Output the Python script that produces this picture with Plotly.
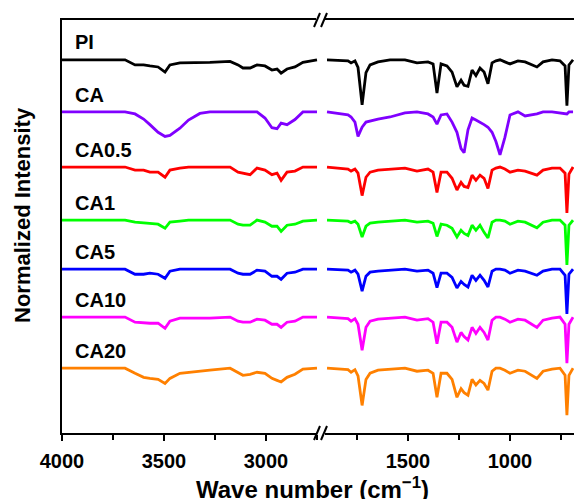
import plotly.graph_objects as go

# ---- data -------------------------------------------------------------
samples = ["PI", "CA", "CA0.5", "CA1", "CA5", "CA10", "CA20"]
colors = ["#000000", "#8000FF", "#FF0000", "#00FF00", "#0000FF", "#FF00FF", "#FF8000"]
offsets = [6.04, 5.02, 3.94, 2.90, 1.94, 1.00, 0.00]

wn_left = [4000, 3691, 3642, 3600, 3569, 3529, 3495, 3471, 3422, 3380, 3324, 3275, 3176,
           3137, 3113, 3078, 3044, 3005, 2971, 2946, 2926, 2897, 2858, 2819, 2750]
wn_right = [1897, 1794, 1779, 1760, 1745, 1725, 1706, 1686, 1647, 1588, 1515, 1456, 1402,
            1377, 1358, 1338, 1309, 1284, 1260, 1240, 1225, 1206, 1186, 1167, 1147, 1127,
            1108, 1088, 1069, 1049, 1025, 1000, 961, 926, 868, 838, 794, 755, 730, 721, 711, 691]

left_PI = [0, 0, -0.1, -0.1, -0.12, -0.14, -0.24, -0.1, -0.06, -0.06, -0.06, -0.05, -0.03,
           -0.1, -0.16, -0.16, -0.1, -0.12, -0.2, -0.18, -0.26, -0.18, -0.14, -0.05, 0]
left_CA = [0, 0, -0.04, -0.14, -0.25, -0.4, -0.48, -0.46, -0.32, -0.16, -0.03, 0, 0,
           0, 0, 0, 0, -0.12, -0.31, -0.33, -0.22, -0.25, -0.15, 0, 0]
left_CA05 = [0, 0, -0.06, -0.06, -0.1, -0.1, -0.2, -0.06, -0.02, 0, 0, 0, 0,
             -0.1, -0.12, -0.15, -0.02, -0.06, -0.15, -0.12, -0.26, -0.1, -0.08, 0, 0]
left_CA1 = [0, 0, -0.04, -0.06, -0.06, -0.08, -0.16, -0.04, -0.02, 0, 0, 0, 0,
            -0.08, -0.1, -0.1, 0, -0.04, -0.12, -0.12, -0.22, -0.1, -0.08, -0.02, 0]
left_CA5 = [0, 0, -0.1, -0.1, -0.08, -0.1, -0.18, -0.04, 0, 0, 0, 0, 0,
            -0.08, -0.1, -0.1, -0.02, -0.04, -0.14, -0.14, -0.2, -0.08, -0.06, 0, 0]
left_CA10 = [0, 0, -0.1, -0.12, -0.12, -0.12, -0.22, -0.08, -0.02, -0.02, -0.02, -0.02, 0,
             -0.08, -0.1, -0.1, -0.04, -0.06, -0.14, -0.14, -0.2, -0.1, -0.08, 0, 0]
left_CA20 = [0, 0, -0.1, -0.18, -0.2, -0.22, -0.3, -0.2, -0.1, -0.08, -0.06, -0.04, 0,
             -0.08, -0.14, -0.12, -0.08, -0.1, -0.2, -0.24, -0.27, -0.18, -0.12, -0.02, 0]

right_PI = [0, -0.02, -0.06, -0.02, -0.15, -0.88, -0.25, -0.1, -0.04, 0, 0, -0.06, -0.04,
            -0.08, -0.65, -0.08, -0.12, -0.24, -0.53, -0.4, -0.5, -0.52, -0.2, -0.31, -0.16, -0.24,
            -0.47, -0.06, -0.02, 0, -0.04, -0.08, -0.02, -0.04, -0.14, -0.04, 0, -0.02, -0.12, -0.9, -0.1, 0]
right_CA = [0, -0.06, -0.1, -0.2, -0.48, -0.3, -0.2, -0.18, -0.14, -0.1, -0.02, 0, -0.04,
            -0.1, -0.24, -0.06, -0.04, -0.2, -0.4, -0.72, -0.8, -0.35, -0.12, -0.16, -0.2, -0.25,
            -0.3, -0.4, -0.58, -0.84, -0.5, -0.06, 0, -0.08, -0.04, 0, 0, -0.02, -0.03, -0.04, 0, 0]
right_CA05 = [0, -0.04, -0.08, -0.04, -0.12, -0.56, -0.2, -0.1, -0.06, -0.04, -0.02, -0.08, -0.04,
              -0.1, -0.5, -0.1, -0.1, -0.22, -0.45, -0.3, -0.38, -0.4, -0.16, -0.26, -0.16, -0.22,
              -0.42, -0.06, -0.02, 0, -0.04, -0.1, -0.06, -0.08, -0.16, -0.06, -0.02, -0.02, -0.12, -0.9, -0.14, 0]
right_CA1 = [0, -0.02, -0.05, -0.02, -0.08, -0.33, -0.12, -0.06, -0.04, -0.02, 0, -0.04, -0.02,
             -0.06, -0.32, -0.08, -0.1, -0.16, -0.33, -0.2, -0.26, -0.3, -0.1, -0.2, -0.1, -0.24,
             -0.35, -0.04, 0, 0, -0.02, -0.08, -0.02, -0.04, -0.15, -0.04, 0, 0, -0.1, -0.88, -0.1, 0]
right_CA5 = [0, -0.02, -0.06, -0.02, -0.1, -0.43, -0.14, -0.06, -0.04, -0.02, 0, -0.04, -0.02,
             -0.08, -0.36, -0.08, -0.08, -0.16, -0.37, -0.24, -0.3, -0.35, -0.12, -0.22, -0.12, -0.22,
             -0.35, -0.04, 0, 0, -0.02, -0.08, -0.02, -0.04, -0.12, -0.04, 0, 0, -0.12, -0.88, -0.1, 0]
right_CA10 = [0, -0.03, -0.08, -0.03, -0.14, -0.65, -0.2, -0.08, -0.04, -0.02, 0, -0.06, -0.03,
              -0.1, -0.52, -0.1, -0.1, -0.2, -0.49, -0.3, -0.38, -0.45, -0.2, -0.32, -0.2, -0.3,
              -0.45, -0.06, 0, 0, -0.04, -0.1, -0.04, -0.06, -0.2, -0.06, -0.02, 0, -0.14, -0.9, -0.14, 0]
right_CA20 = [0, -0.03, -0.08, -0.03, -0.15, -0.73, -0.22, -0.1, -0.04, -0.02, 0, -0.06, -0.04,
              -0.1, -0.57, -0.1, -0.1, -0.22, -0.57, -0.4, -0.48, -0.53, -0.22, -0.33, -0.24, -0.3,
              -0.43, -0.06, 0, 0, -0.04, -0.1, -0.04, -0.06, -0.2, -0.06, -0.02, 0, -0.14, -0.92, -0.14, 0]

left_vals = [left_PI, left_CA, left_CA05, left_CA1, left_CA5, left_CA10, left_CA20]
right_vals = [right_PI, right_CA, right_CA05, right_CA1, right_CA5, right_CA10, right_CA20]

left_major = [4000, 3500, 3000]
left_minor = [3750, 3250, 2750]
right_major = [1500, 1000]
right_minor = [1750, 1250, 750]

# ---- figure -----------------------------------------------------------
W, H = 574, 499
ML, MR, MT, MB = 62, 0, 20, 66
PW, PH = W - ML - MR, H - MT - MB
split = (323 - ML) / PW

FONT = "Arial, 'Liberation Sans', sans-serif"


def px(xp):
    return (xp - ML) / PW


def py(yp):
    return (H - MB - yp) / PH


fig = go.Figure()
for name, col, off, lv, rv in zip(samples, colors, offsets, left_vals, right_vals):
    fig.add_trace(go.Scatter(x=wn_left, y=[off + v for v in lv], mode="lines",
                             line=dict(color=col, width=2.8), xaxis="x", yaxis="y",
                             showlegend=False, hoverinfo="skip"))
    fig.add_trace(go.Scatter(x=wn_right, y=[off + v for v in rv], mode="lines",
                             line=dict(color=col, width=2.8), xaxis="x2", yaxis="y",
                             showlegend=False, hoverinfo="skip"))
    fig.add_annotation(x=3945, y=off + 0.34, xref="x", yref="y", text="<b>%s</b>" % name,
                       showarrow=False, xanchor="left", yanchor="middle",
                       font=dict(family=FONT, size=20, color="black"))

axis_common = dict(showline=True, linecolor="black", linewidth=2.4, mirror=True,
                   ticks="outside", ticklen=6, tickwidth=1.8, tickcolor="black",
                   showgrid=False, zeroline=False, ticklabelstandoff=3,
                   tickfont=dict(family=FONT, size=20, color="black"))

fig.update_layout(
    width=W, height=H, margin=dict(l=ML, r=MR, t=MT, b=MB),
    paper_bgcolor="white", plot_bgcolor="white",
    xaxis=dict(domain=[0, split], range=[4000, 4000 - (323 - ML) / 0.204], anchor="y",
               tickvals=left_major, ticktext=["<b>%d</b>" % v for v in left_major],
               minor=dict(tickvals=left_minor, ticks="outside", ticklen=5, tickwidth=1.8,
                          tickcolor="black"),
               **axis_common),
    xaxis2=dict(domain=[split, 1], range=[1500 + (408 - 323) / 0.204, 1500 - (W - 408) / 0.204],
                anchor="y",
                tickvals=right_major, ticktext=["<b>%d</b>" % v for v in right_major],
                minor=dict(tickvals=right_minor, ticks="outside", ticklen=5, tickwidth=1.8,
                           tickcolor="black"),
                **axis_common),
    yaxis=dict(domain=[0, 1], range=[-1.27, 6.82], showline=True, linecolor="black",
               linewidth=2.4, showticklabels=False, ticks="", showgrid=False, zeroline=False),
)

# axis titles
fig.add_annotation(x=px(312), y=py(488), xref="paper", yref="paper",
                   text="<b>Wave number (cm<sup>\u22121</sup>)</b>", showarrow=False,
                   xanchor="center", yanchor="middle",
                   font=dict(family=FONT, size=24, color="black"))
fig.add_annotation(x=px(22), y=py(215), xref="paper", yref="paper",
                   text="<b>Normalized Intensity</b>", showarrow=False, textangle=-90,
                   xanchor="center", yanchor="middle",
                   font=dict(family=FONT, size=22, color="black"))

# axis-break marks (top and bottom)
for yc in (20, 433):
    fig.add_shape(type="rect", xref="paper", yref="paper",
                  x0=px(316), x1=px(325), y0=py(yc + 2), y1=py(yc - 2),
                  fillcolor="white", line=dict(width=0), layer="above")
    for xc in (317, 324):
        fig.add_shape(type="line", xref="paper", yref="paper",
                      x0=px(xc - 3), y0=py(yc + 7), x1=px(xc + 3), y1=py(yc - 7),
                      line=dict(color="black", width=2), layer="above")

fig.write_html("out.html", config={"displayModeBar": False})
